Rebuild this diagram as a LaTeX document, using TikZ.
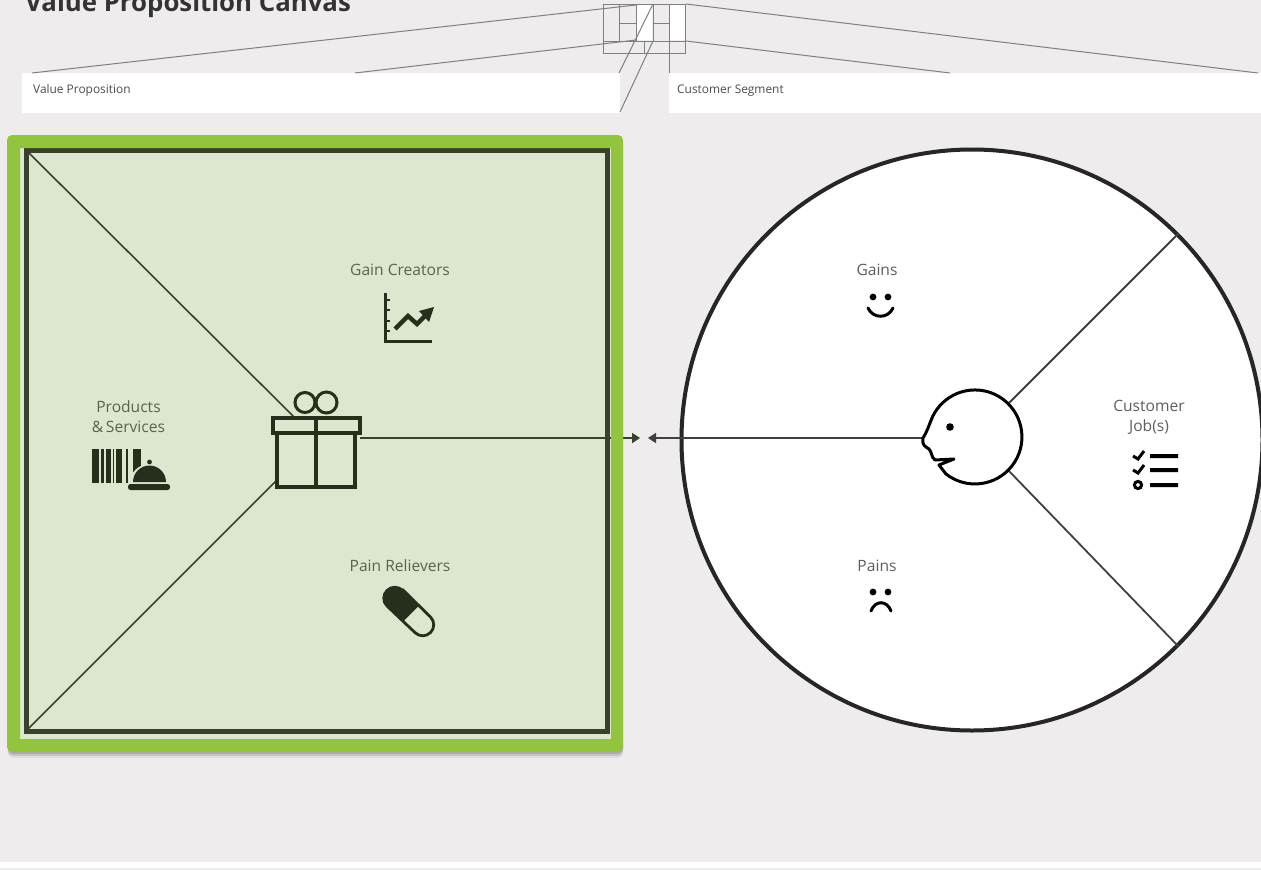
\documentclass[tikz,border=0pt]{standalone}
\usepackage{fontspec}
\setmainfont{Open Sans}
\usetikzlibrary{arrows.meta}
\definecolor{bgc}{HTML}{EEECED}
\definecolor{framec}{HTML}{93C43D}
\definecolor{innerc}{HTML}{DDE6CF}
\definecolor{darkc}{HTML}{37412C}
\definecolor{iconc}{HTML}{262E1C}
\definecolor{lblg}{HTML}{59644E}
\definecolor{lblw}{HTML}{5E5E5E}
\definecolor{thumbc}{HTML}{808080}
\tikzset{
  thumb/.style={draw=thumbc,line width=1pt},
  greenlabel/.style={text=lblg,font=\fontsize{15.6}{20}\selectfont,align=center,inner sep=0pt},
  whitelabel/.style={text=lblw,font=\fontsize{15.6}{20}\selectfont,align=center,inner sep=0pt},
  boxlabel/.style={text=black!70,font=\fontsize{11.9}{13}\selectfont,anchor=west,inner sep=0pt},
  spoke/.style={draw=black!75,line width=1.8pt},
  diag/.style={draw=darkc,line width=1.6pt},
  ico/.style={draw=iconc,line width=3.4pt},
  pointer/.style={draw=black!75,line width=1.7pt,-{Triangle[length=8pt,width=10pt]}},
  greenpointer/.style={draw=darkc,line width=1.7pt,-{Triangle[length=8pt,width=10pt]}}
}
\begin{document}
\begin{tikzpicture}[x=1pt,y=-1pt]
\useasboundingbox (0,0) rectangle (1261,870);
\clip (0,0) rectangle (1261,870);
% background
\fill[bgc] (0,0) rectangle (1261,870);
\fill[white] (0,862) rectangle (1261,868);
% title
\node[anchor=base west,inner sep=0pt,font=\bfseries\fontsize{25.8}{30}\selectfont,text=black!80] (title) at (25,12) {Value Proposition Canvas};
% top boxes
\fill[white] (22,73) rectangle (620,113);
\fill[white] (669,73) rectangle (1261,113);
\node[boxlabel] (vp) at (33,90) {Value Proposition};
\node[boxlabel] (cs) at (677,91) {Customer Segment};
% thumbnail
\fill[white] (637,5) rectangle (652,40);
\fill[white] (670,5) rectangle (685,40);
\draw[thumb] (603,4) rectangle (685,53);
\draw[thumb] (603,41) -- (685,41);
\draw[thumb] (619,4) -- (619,41) (636,4) -- (636,41) (653,4) -- (653,41) (669,4) -- (669,73);
\draw[thumb] (619,23) -- (636,23) (653,23) -- (669,23);
\draw[thumb] (644,41) -- (644,53);
\draw[thumb] (32,73) -- (636,5);
\draw[thumb] (355,73) -- (636,40);
\draw[thumb] (686,4) -- (1258,73);
\draw[thumb] (686,41) -- (950,73);
\draw[thumb] (653,4) -- (619,73);
\draw[thumb] (653,41) -- (620,112);
% left panel
\fill[black,opacity=0.06,rounded corners=5pt] (8,141) rectangle (623,758);
\fill[black,opacity=0.10,rounded corners=5pt] (8,140) rectangle (623,756);
\fill[black,opacity=0.14,rounded corners=5pt] (8,139) rectangle (623,754);
\fill[innerc] (20,148) rectangle (611,739);
\coordinate (tl) at (26,150);
\coordinate (bl) at (26,731);
\coordinate (gifttl) at (294,417);
\coordinate (giftbl) at (277,480);
\coordinate (giftr) at (360,438);
\coordinate (tipr) at (640,438);
\coordinate (tipl) at (648,438);
\coordinate (nose) at (923,438);
\draw[diag] (tl) -- (gifttl);
\draw[diag] (bl) -- (giftbl);
\draw[greenpointer] (giftr) -- (tipr);
\draw[darkc,line width=5pt] (26,150) rectangle (607,731);
\fill[framec,even odd rule] [rounded corners=5pt] (7,135) rectangle (623,752) [sharp corners] (20,148) rectangle (611,739);
% gift
\draw[ico] (277,433) rectangle (355,487);
\draw[ico,fill=innerc] (273,418) rectangle (360,433);
\draw[ico] (316,418) -- (316,487);
\draw[ico,line width=3pt] (305,402.5) circle[radius=10pt] (326.5,402.5) circle[radius=10.5pt];
% labels left
\node[greenlabel] (gc) at (400,269.5) {Gain Creators};
\node[greenlabel] (pr) at (400,565.5) {Pain Relievers};
\node[greenlabel] (ps) at (128.5,416.5) {Products\\[-0.5pt]\&\,Services};
% barcode
\foreach \a/\b in {92/99,100.7/104.3,106/110.7,112.7/114.3,116/121.7,126/128.3,132.7/141}
  \fill[iconc] (\a,449) rectangle (\b,483);
% cloche
\fill[innerc] (129.5,484) arc[start angle=180,end angle=0,radius=20pt] -- cycle;
\fill[iconc] (133,482) arc[start angle=180,end angle=0,radius=16.5pt] -- cycle;
\fill[iconc] (149.5,462) circle[radius=2.4pt];
\fill[iconc,rounded corners=2.5pt] (128,484) rectangle (170,490);
% chart
\draw[ico,line width=3pt] (385,293) -- (385,341) -- (432,341);
\draw[ico,line width=2.4pt] (385,300) -- (390,300) (385,310) -- (390,310) (385,321) -- (390,321) (385,331) -- (390,331);
\draw[ico,line width=4.4pt] (395,329) -- (408,316) -- (417,324) -- (428,313);
\fill[iconc] (434,307) -- (429,322) -- (419,311) -- cycle;
% pill
\draw[iconc,line width=2.8pt,fill=innerc] (403,590) -- (430.5,617) arc[start angle=45,end angle=-135,radius=11pt] -- (387,606) arc[start angle=225,end angle=45,radius=11pt] -- cycle;
\fill[iconc] (403,590) -- (418.5,606) -- (404,620.5) -- (387,606) arc[start angle=225,end angle=45,radius=11pt] -- cycle;
% right circle
\node[circle,draw=black!85,fill=white,line width=4pt,minimum size=581pt,inner sep=0pt] (canvas) at (972,440) {};
\node[circle,minimum size=94pt,inner sep=0pt] (face) at (975,437) {};
\draw[spoke] (face.45) -- (canvas.45);
\draw[spoke] (face.-45) -- (canvas.-45);
\draw[pointer] (nose) -- (tipl);
\draw[black,line width=3pt,fill=white,line join=round] (946,474) arc[start angle=232,end angle=514.5,radius=47pt]
  .. controls (929,425) and (927,432) .. (nose) .. controls (922,446) and (925,446) .. (929,449)
  .. controls (932,452) and (931,457) .. (935,460) -- (954,459) -- (939,465) -- cycle;
\fill[black] (950,427) circle[radius=3.8pt];
% right labels
\node[whitelabel] (gains) at (877,269.5) {Gains};
\node[whitelabel] (pains) at (877,565.5) {Pains};
\node[whitelabel] (jobs) at (1149,417.5) {Customer\\[0.5pt]Job(s)};
% smiley
\fill[black] (873,297) circle[radius=3.4pt] (888,297) circle[radius=3.4pt];
\draw[black,line width=3pt,line cap=round] (868,308) .. controls (873,319) and (888,319) .. (893,308);
% frown
\fill[black] (873,592) circle[radius=3.4pt] (888,592) circle[radius=3.4pt];
\draw[black,line width=3pt,line cap=round] (871,611) .. controls (875,600) and (887,600) .. (891,611);
% job list
\draw[black,line width=3pt] (1133,456) -- (1138,459) -- (1144,451);
\draw[black,line width=3pt] (1133,470) -- (1138,473) -- (1144,465);
\draw[black,line width=3pt] (1138,485) circle[radius=3.6pt];
\fill[black] (1150,454) rectangle (1178,458) (1150,468) rectangle (1178,472) (1150,483) rectangle (1178,487);
\end{tikzpicture}
\end{document}
